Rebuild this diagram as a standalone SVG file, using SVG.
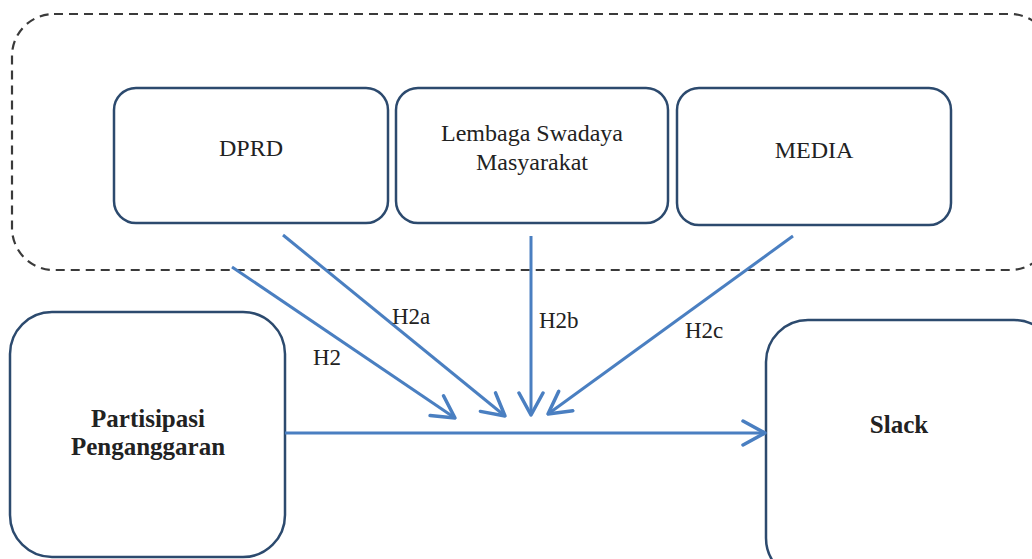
<svg xmlns="http://www.w3.org/2000/svg" width="1032" height="559" viewBox="0 0 1032 559">
<defs>
<marker id="arr" viewBox="0 0 26 28" refX="24" refY="14" markerWidth="26" markerHeight="28" markerUnits="userSpaceOnUse" orient="auto">
<path d="M2,2 L24,14 L2,26" fill="none" stroke="#4a7fc1" stroke-width="3.5" stroke-linecap="round" stroke-linejoin="round"/>
</marker>
</defs>
<rect x="12" y="14" width="1040" height="256" rx="42" fill="none" stroke="#3a3a3a" stroke-width="2.2" stroke-dasharray="9,6"/>
<g font-family="Liberation Serif, serif" fill="#222" font-size="24">
<g id="dprd"><rect x="114" y="88" width="274" height="135" rx="22" fill="#fff" stroke="#2c4a6e" stroke-width="2.5"/><text x="251" y="156" text-anchor="middle">DPRD</text></g>
<g id="lsm"><rect x="396" y="88" width="272" height="135" rx="22" fill="#fff" stroke="#2c4a6e" stroke-width="2.5"/><text x="532" y="141" text-anchor="middle">Lembaga Swadaya</text><text x="532" y="170" text-anchor="middle">Masyarakat</text></g>
<g id="media"><rect x="677" y="88" width="274" height="137" rx="22" fill="#fff" stroke="#2c4a6e" stroke-width="2.5"/><text x="814" y="158" text-anchor="middle">MEDIA</text></g>
<g id="partisipasi"><rect x="10" y="312" width="275" height="245" rx="42" fill="#fff" stroke="#2c4a6e" stroke-width="2.5"/><text x="148" y="427" font-size="25" font-weight="bold" text-anchor="middle">Partisipasi</text><text x="148" y="455" font-size="25" font-weight="bold" text-anchor="middle">Penganggaran</text></g>
<g id="slack"><rect x="766" y="320" width="290" height="260" rx="42" fill="#fff" stroke="#2c4a6e" stroke-width="2.5"/><text x="899" y="433" font-size="25" font-weight="bold" text-anchor="middle">Slack</text></g>
<g id="connectors" stroke="#4a7fc1" stroke-width="3" fill="none">
<line x1="285" y1="433" x2="765" y2="433" marker-end="url(#arr)"/>
<line x1="232" y1="267" x2="455" y2="418" marker-end="url(#arr)"/>
<line x1="283" y1="235" x2="505" y2="416" marker-end="url(#arr)"/>
<line x1="531" y1="236" x2="531" y2="415" marker-end="url(#arr)"/>
<line x1="793" y1="236" x2="548" y2="414" marker-end="url(#arr)"/>
</g>
<g id="labels" font-size="23">
<text x="313" y="365">H2</text>
<text x="392" y="324">H2a</text>
<text x="539" y="328">H2b</text>
<text x="685" y="338">H2c</text>
</g>
</g>
</svg>
